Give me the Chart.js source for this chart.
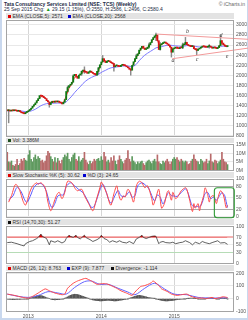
<!DOCTYPE html>
<html>
<head>
<meta charset="utf-8">
<title>TCS weekly</title>
<script src="https://cdn.jsdelivr.net/npm/chart.js@4.4.1/dist/chart.umd.min.js"></script>
<style>
  body { margin: 0; width: 248px; height: 320px; background: #c9d8ee; position: relative; overflow: hidden;
         font-family: "Liberation Sans", Arial, sans-serif; }
  #sheet { position: absolute; left: 2px; top: 0; width: 245px; height: 318px; background: #fff; }
  .hdr { position: absolute; left: 4px; font-size: 5px; line-height: 6px; color: #1d2b45; white-space: nowrap; }
  .strip { position: absolute; left: 6px; width: 228px; height: 6px; background: #e3e3e3; }
  .lg { position: absolute; top: 0; font-size: 5px; line-height: 6px; color: #333; white-space: nowrap; }
  .sq { display: inline-block; width: 3px; height: 3px; margin-right: 1.5px; }
  canvas { position: absolute; left: 6px; }
</style>
</head>
<body>
<div id="sheet"></div>
<div class="hdr" style="top:0.5px;font-weight:bold">Tata Consultancy Services Limited (NSE: TCS) (Weekly)</div>
<div class="hdr" style="top:6px">25 Sep 2015 Chg: <span style="color:#1a9a1a">&#9650;</span> 29.15 (1.15%), O:2550, H:2586, L:2496, C:2580.4</div>
<div class="hdr" style="top:0.5px;left:auto;right:3px;color:#666">&copy; iCharts.in</div>

<div class="strip" style="top:13px">
  <span class="lg" style="left:2px"><i class="sq" style="background:#e00000"></i>EMA (CLOSE,5): 2571</span>
  <span class="lg" style="left:62px"><i class="sq" style="background:#0000d0"></i>EMA (CLOSE,20): 2568</span>
</div>
<div class="strip" style="top:138px;height:5px">
  <span class="lg" style="left:2px;line-height:5px"><i class="sq" style="background:#1f4f1f"></i>Vol: 3.386M</span>
</div>
<div class="strip" style="top:172px">
  <span class="lg" style="left:2px"><i class="sq" style="background:#e00000"></i>Slow Stochastic %K (5): 30.62</span>
  <span class="lg" style="left:77px"><i class="sq" style="background:#0000d0"></i>%D (3): 24.65</span>
</div>
<div class="strip" style="top:219px">
  <span class="lg" style="left:2px"><i class="sq" style="background:#111"></i>RSI (14,70,30): 51.27</span>
</div>
<div class="strip" style="top:265px">
  <span class="lg" style="left:2px"><i class="sq" style="background:#e00000"></i>MACD (26, 12): 8.763</span>
  <span class="lg" style="left:61px"><i class="sq" style="background:#0000d0"></i>EXP (9): 7.877</span>
  <span class="lg" style="left:105px"><i class="sq" style="background:#111"></i>Divergence: -1.114</span>
</div>

<canvas id="cPrice" width="242" height="127" style="top:15px"></canvas>
<canvas id="cVol" width="242" height="37" style="top:139px"></canvas>
<canvas id="cStoch" width="242" height="49" style="top:174px"></canvas>
<canvas id="cRsi" width="242" height="48" style="top:221px"></canvas>
<canvas id="cMacd" width="242" height="53" style="top:267px"></canvas>

<script>
// weeks are counted from 21 Sep 2012 (week 0) to 25 Sep 2015 (week 157)
const yearWeeks = [15, 67, 119];
const yearLabels = ['2013', '2014', '2015'];

const firstOpen = 1310;
const closes = [
  1300, 1310, 1295, 1305, 1300, 1315, 1300, 1290, 1305, 1280,
  1260, 1250, 1240, 1265, 1280, 1300, 1325, 1350, 1390, 1420,
  1455, 1500, 1540, 1600, 1590, 1585, 1560, 1540, 1500, 1475,
  1422, 1460, 1488, 1470, 1480, 1475, 1490, 1470, 1455, 1436,
  1470, 1520, 1681, 1760, 1800, 1825, 1864, 1990, 2020, 1980,
  1942, 2006, 2030, 2080, 2103, 2070, 2060, 2040, 2070, 2084,
  2060, 2040, 2020, 2006, 2080, 2148, 2210, 2266, 2331, 2290,
  2253, 2279, 2290, 2270, 2250, 2234, 2170, 2190, 2200, 2180,
  2175, 2200, 2214, 2200, 2190, 2170, 2150, 2120, 2103, 2200,
  2270, 2331, 2390, 2428, 2500, 2540, 2578, 2540, 2512, 2530,
  2560, 2605, 2650, 2707, 2750, 2784, 2800, 2687, 2512, 2605,
  2630, 2645, 2656, 2640, 2620, 2590, 2558, 2460, 2527, 2540,
  2558, 2540, 2530, 2550, 2545, 2605, 2620, 2656, 2610, 2590,
  2578, 2570, 2580, 2527, 2510, 2493, 2520, 2538, 2560, 2578,
  2570, 2560, 2558, 2575, 2580, 2560, 2538, 2560, 2545, 2530,
  2550, 2590, 2687, 2640, 2605, 2580, 2570, 2580.4
];
// [week, low, high] for the wicks that stand out
const wicks = [
  [1, 1060, 1320], [30, 1370, 1440], [43, 1660, 1790], [47, 1900, 2010], [53, 2000, 2090],
  [55, 2040, 2170], [65, 2020, 2160], [68, 2290, 2395], [76, 2084, 2240], [88, 2006, 2130],
  [92, 2330, 2420], [101, 2540, 2640], [106, 2690, 2840], [109, 2500, 2650], [117, 2362, 2560],
  [125, 2530, 2640], [127, 2600, 2753], [135, 2410, 2530], [144, 2540, 2610], [152, 2630, 2800]
];
// EMA values every second week, last one at week 157
const ema5 = [
  1302, 1300, 1303, 1305, 1298, 1275, 1252, 1270, 1310, 1370,
  1435, 1515, 1580, 1575, 1525, 1465, 1470, 1478, 1480, 1460,
  1460, 1590, 1740, 1830, 1960, 1975, 2010, 2070, 2075, 2065,
  2065, 2035, 2040, 2160, 2280, 2280, 2280, 2255, 2205, 2195,
  2185, 2205, 2195, 2160, 2120, 2230, 2350, 2460, 2550, 2535,
  2550, 2625, 2720, 2775, 2620, 2610, 2645, 2630, 2575, 2515,
  2545, 2540, 2555, 2610, 2625, 2590, 2580, 2530, 2515, 2550,
  2570, 2562, 2575, 2555, 2550, 2548, 2620, 2625, 2580, 2571
];
const ema20 = [
  1300, 1301, 1302, 1303, 1302, 1296, 1286, 1282, 1288, 1305,
  1330, 1365, 1400, 1425, 1440, 1445, 1448, 1450, 1452, 1452,
  1450, 1475, 1530, 1590, 1660, 1720, 1775, 1840, 1890, 1930,
  1960, 1985, 2005, 2040, 2075, 2100, 2130, 2150, 2160, 2168,
  2174, 2185, 2188, 2185, 2175, 2180, 2220, 2290, 2350, 2400,
  2440, 2475, 2510, 2545, 2560, 2570, 2585, 2598, 2600, 2590,
  2585, 2580, 2575, 2580, 2590, 2590, 2588, 2575, 2565, 2562,
  2563, 2563, 2565, 2562, 2558, 2555, 2575, 2580, 2570, 2568
];
const upperTrendWeeks = [106.6, 171.6];
const upperTrendPrices = [2818, 2715];
const lowerTrendWeeks = [117.6, 171.6];
const lowerTrendPrices = [2330, 2540];
const waveNames = ['a', 'b', 'c', 'd', 'e'];
const waveWeeks = [118.2, 128.4, 135.2, 152.4, 156.6];
const wavePrices = [2304, 2862, 2308, 2784, 2376];
const priceTicks = [800, 1000, 1200, 1400, 1600, 1800, 2000, 2200, 2400, 2600, 2800, 3000];

// volume in millions
const volumes = [
  10.5, 5.0, 4.5, 5.5, 3.0, 2.5, 3.5, 6.5, 3.0, 4.0,
  6.5, 5.5, 7.0, 6.0, 5.5, 9.0, 11.5, 6.5, 5.0, 7.5,
  9.0, 6.5, 8.0, 7.0, 5.5, 6.0, 4.5, 5.5, 8.5, 11.0,
  10.0, 8.0, 6.5, 5.0, 7.5, 4.5, 7.0, 5.5, 4.0, 6.0,
  7.5, 9.0, 8.0, 10.0, 6.5, 5.0, 7.5, 9.0, 10.0, 6.5,
  5.5, 8.0, 5.0, 6.0, 7.0, 10.5, 6.0, 4.5, 3.5, 5.5,
  4.0, 5.0, 6.5, 5.5, 6.5, 7.0, 5.5, 8.0, 6.0, 10.5,
  8.0, 5.0, 6.0, 4.5, 7.5, 5.5, 8.5, 5.5, 3.5, 6.0,
  8.5, 6.5, 5.0, 4.0, 6.0, 7.0, 11.5, 6.5, 5.0, 8.0,
  5.5, 4.5, 3.5, 5.0, 4.0, 5.0, 5.5, 4.0, 3.0, 4.5,
  5.5, 6.0, 5.0, 4.0, 5.5, 6.5, 5.0, 9.0, 5.0, 4.0,
  3.5, 5.5, 4.5, 5.5, 6.5, 5.0, 3.5, 5.0, 6.5, 7.5,
  6.5, 7.5, 6.0, 5.0, 6.5, 5.5, 4.5, 5.5, 5.0, 3.5,
  4.0, 5.5, 6.5, 9.0, 6.5, 5.5, 5.0, 3.5, 6.5, 5.5,
  4.5, 5.0, 6.5, 4.0, 5.5, 9.5, 5.0, 4.5, 6.0, 5.5,
  4.0, 5.0, 6.0, 10.5, 6.5, 5.0, 4.5, 3.386
];
const volTicks = [0, 5, 10, 15];

const stochKWeeks = [
  1, 3, 6, 9, 11, 13, 16, 18, 21, 22, 24, 27, 29, 31, 33, 35, 37, 39, 41, 43,
  46, 48, 50, 53, 55, 58, 61, 63, 66, 67, 68, 71, 73, 74, 76, 78, 79, 81, 83, 84,
  86, 88, 90, 92, 94, 96, 98, 100, 103, 104, 106, 108, 110, 112, 114, 115, 117, 118, 120, 122,
  124, 127, 128, 130, 132, 133, 134, 136, 137, 138, 140, 141, 143, 144, 145, 147, 149, 150, 152, 154,
  155, 156, 157
];
const stochK = [
  39, 56, 86, 69, 44, 31, 65, 81, 90, 86, 90, 77, 39, 16, 35, 56, 65, 48, 65, 94,
  90, 77, 69, 73, 56, 35, 16, 39, 77, 92, 86, 61, 35, 31, 61, 82, 65, 44, 56, 52,
  73, 61, 39, 82, 94, 90, 77, 82, 48, 31, 52, 73, 23, 35, 65, 69, 44, 65, 48, 56,
  69, 77, 73, 44, 14, 35, 23, 35, 16, 31, 56, 77, 56, 39, 52, 56, 35, 48, 69, 58,
  42, 24, 30.62
];
const stochDWeeks = [
  1, 4, 7, 10, 12, 14, 17, 19, 22, 25, 28, 30, 32, 34, 36, 38, 40, 42, 45, 48,
  51, 54, 57, 60, 62, 65, 68, 70, 72, 74, 77, 79, 81, 84, 87, 89, 91, 93, 96, 99,
  101, 103, 105, 107, 109, 111, 113, 115, 117, 119, 121, 124, 127, 129, 131, 133, 135, 137, 139, 141,
  143, 145, 147, 149, 151, 153, 155, 156, 157
];
const stochD = [
  45, 55, 78, 66, 48, 38, 60, 78, 88, 86, 66, 38, 24, 36, 55, 58, 58, 80, 90, 82,
  72, 64, 45, 25, 28, 60, 86, 72, 48, 36, 58, 70, 56, 54, 66, 52, 56, 82, 90, 82,
  74, 56, 42, 58, 52, 34, 50, 64, 56, 55, 54, 64, 74, 62, 36, 26, 28, 26, 38, 62,
  64, 48, 52, 44, 54, 64, 56, 40, 24.65
];
const stochTicks = [0, 20, 50, 80, 100];
const focusWeeks = [147.6, 161.8];
const focusLevels = [77, -2.5];

const rsiWeeks = [
  0, 3, 5, 7, 10, 12, 13, 16, 18, 21, 22, 24, 25, 28, 30, 31, 34, 36, 39, 41,
  42, 44, 45, 47, 49, 50, 52, 55, 56, 59, 61, 64, 66, 67, 69, 71, 73, 75, 78, 80,
  82, 85, 87, 90, 92, 94, 96, 97, 99, 101, 103, 105, 106, 108, 109, 111, 113, 116, 118, 120,
  123, 125, 127, 130, 132, 134, 137, 139, 141, 144, 146, 150, 152, 155, 157
];
const rsiVals = [
  56, 57, 55, 53, 49, 47, 53, 59, 61, 67, 70, 79, 73, 67, 50, 61, 57, 61, 55, 59,
  67, 76, 73, 70, 76, 70, 66, 76, 70, 64, 59, 64, 69, 76, 67, 64, 57, 61, 57, 61,
  57, 55, 59, 53, 66, 70, 76, 70, 67, 70, 73, 74, 73, 53, 57, 59, 56, 55, 57, 53,
  56, 57, 61, 56, 50, 57, 53, 59, 56, 53, 56, 61, 55, 56, 51.27
];
const rsiTicks = [0, 30, 50, 70, 100];

const macdWeeks = [
  0, 5, 11, 15, 18, 22, 27, 30, 34, 39, 41, 43, 47, 50, 54, 56, 60, 64, 67, 71,
  74, 78, 81, 85, 89, 91, 95, 98, 102, 104, 108, 110, 114, 117, 121, 124, 128, 131, 135, 139,
  142, 146, 148, 152, 154, 157
];
const macdVals = [
  36, 26, 10, 5, 18, 44, 77, 62, 44, 31, 36, 82, 121, 139, 155, 160, 139, 113, 118, 116,
  103, 82, 62, 44, 26, 52, 95, 103, 121, 139, 103, 77, 57, 36, 26, 31, 36, 18, 5, 5,
  0, 10, 0, 10, 15, 8.763
];
const signalWeeks = [0, 8, 15, 22, 29, 36, 42, 48, 55, 60, 66, 72, 79, 86, 91, 98, 105, 112, 119, 128, 136, 146, 157];
const signalVals = [36, 18, 10, 25, 55, 45, 36, 88, 134, 139, 113, 113, 82, 52, 31, 82, 121, 77, 36, 31, 10, 5, 7.877];
const divergence = [
  -4, -5, -6, -6, -7, -7, -6, -6, -5, -5,
  -4, -4, -3, -3, -2, -1, 2,
  6, 10, 14, 18, 22, 25, 26, 25, 22,
  18, 13, 8, 4, 0,
  -4, -7, -8, -9, -8, -8, -7, -5, -3, -1, 2,
  8, 14, 20, 26, 30, 33, 35, 35, 33, 30, 26,
  22, 18, 14, 10, 6, 2,
  -3, -6, -9, -12, -14, -15, -16, -17, -18, -17, -16, -15, -14, -13, -14, -15, -16, -17, -18, -17, -15, -13, -12, -10, -8, -6, -4,
  -1, 3, 7, 11, 15, 19, 22, 25, 26, 25, 23, 20, 17, 14, 11,
  9, 7, 5, 3, 1, -2,
  -5, -8, -11, -14, -16, -17, -18, -18, -17, -16, -15, -14, -12, -10, -8, -6, -5, -4, -3,
  -2, -1, 0, 1, 2, 3, 3, 2, 1, 0, -2, -3, -4, -3, -2, -1, 1, 2, 3, 3, 2, 1, 0, -1, -2, -1, 1, 2, 2, 1, 0, -1.114
];
const macdTicks = [-100, 0, 100, 200];

const xMin = -0.9, xMax = 161.6;

Chart.defaults.font.family = '"Liberation Sans", Arial, sans-serif';
Chart.defaults.font.size = 5;
Chart.defaults.color = '#555';

function isUp(i) {
  return closes[i] >= (i ? closes[i - 1] : firstOpen);
}
function pairs(weeks, vals) {
  return vals.map((v, k) => ({ x: weeks[k], y: v }));
}
function everySecondWeek(vals) {
  return vals.map((v, k) => ({ x: k < vals.length - 1 ? k * 2 : closes.length - 1, y: v }));
}

const frameBox = {
  id: 'frameBox',
  afterDraw(chart) {
    const a = chart.chartArea, g = chart.ctx;
    g.save();
    g.strokeStyle = '#a4a4a4';
    g.lineWidth = 1;
    g.strokeRect(a.left + 0.5, a.top + 0.5, a.right - a.left - 1, a.bottom - a.top - 1);
    g.restore();
  }
};

const waveText = {
  id: 'waveText',
  afterDatasetsDraw(chart) {
    const g = chart.ctx, xs = chart.scales.x, ys = chart.scales.y;
    g.save();
    g.font = 'italic 6px "Liberation Serif", serif';
    g.fillStyle = '#444';
    g.textAlign = 'center';
    g.textBaseline = 'middle';
    waveNames.forEach((t, k) => {
      g.fillText(t, xs.getPixelForValue(waveWeeks[k]), ys.getPixelForValue(wavePrices[k]));
    });
    g.restore();
  }
};

const focusBox = {
  id: 'focusBox',
  afterDraw(chart) {
    const g = chart.ctx, xs = chart.scales.x, ys = chart.scales.y;
    const x0 = xs.getPixelForValue(focusWeeks[0]), x1 = xs.getPixelForValue(focusWeeks[1]);
    const y0 = ys.getPixelForValue(focusLevels[0]), y1 = ys.getPixelForValue(focusLevels[1]);
    g.save();
    g.strokeStyle = '#2f9a35';
    g.lineWidth = 1.1;
    g.beginPath();
    g.roundRect(x0, y0, x1 - x0, y1 - y0, 3);
    g.stroke();
    g.restore();
  }
};

function xScale(showLabels) {
  return {
    type: 'linear', min: xMin, max: xMax, offset: false,
    afterBuildTicks: s => { s.ticks = yearWeeks.map(v => ({ value: v })); },
    afterFit: s => { s.height = showLabels ? 8 : 0; },
    grid: { color: '#d6d6d6', drawTicks: false, offset: false },
    border: { display: false },
    ticks: { display: showLabels, autoSkip: false, maxRotation: 0, padding: 2, color: '#555',
             callback: (v, i) => yearLabels[i] }
  };
}

function yScale(min, max, ticks, fmt, gridColor, gridWidth) {
  return {
    position: 'right', min: min, max: max,
    afterBuildTicks: s => { s.ticks = ticks.map(v => ({ value: v })); },
    afterFit: s => { s.width = 14; },
    grid: { drawTicks: false, color: gridColor, lineWidth: gridWidth || 1 },
    border: { display: false },
    ticks: { padding: 2, color: '#555', callback: fmt }
  };
}

function options(x, y, padBottom) {
  return {
    responsive: false, animation: false, events: [],
    layout: { padding: { top: 4, bottom: padBottom, left: 0, right: 0 } },
    plugins: { legend: { display: false }, tooltip: { enabled: false } },
    scales: { x: x, y: y }
  };
}

// price panel
new Chart(document.getElementById('cPrice'), {
  type: 'bar',
  data: {
    datasets: [
      { type: 'line', data: pairs(upperTrendWeeks, upperTrendPrices), borderColor: '#f29a9a', borderWidth: 1,
        pointRadius: 0, clip: false, order: 0 },
      { type: 'line', data: pairs(lowerTrendWeeks, lowerTrendPrices), borderColor: '#f29a9a', borderWidth: 1,
        pointRadius: 0, clip: false, order: 0 },
      { data: closes.map((c, i) => ({ x: i, y: [i ? closes[i - 1] : firstOpen, c] })),
        backgroundColor: closes.map((c, i) => isUp(i) ? '#0d7a12' : '#d41515'),
        barThickness: 1.2, minBarLength: 1, grouped: false, order: 1 },
      { type: 'line', data: everySecondWeek(ema5), borderColor: '#ff2a2a', borderWidth: 0.9,
        pointRadius: 0, order: 3 },
      { type: 'line', data: everySecondWeek(ema20), borderColor: '#6f6cff', borderWidth: 0.9,
        pointRadius: 0, order: 3 },
      { data: wicks.map(w => ({ x: w[0], y: [w[1], w[2]] })), backgroundColor: '#8a8a8a',
        barThickness: 0.8, grouped: false, order: 4 }
    ]
  },
  options: options(xScale(false), yScale(780, 3097, priceTicks, v => v, '#e8e8e8'), 4),
  plugins: [frameBox, waveText]
});

// volume panel
new Chart(document.getElementById('cVol'), {
  type: 'bar',
  data: {
    datasets: [
      { data: volumes.map((v, i) => ({ x: i, y: v })),
        backgroundColor: volumes.map((v, i) => isUp(i) ? '#5f9a5f' : '#b86a6a'),
        barThickness: 1, grouped: false }
    ]
  },
  options: options(xScale(false), yScale(-0.3, 15.3, volTicks, v => v + 'M', '#e8e8e8'), 4),
  plugins: [frameBox]
});

// slow stochastic panel
new Chart(document.getElementById('cStoch'), {
  type: 'line',
  data: {
    datasets: [
      { data: pairs(stochKWeeks, stochK), borderColor: '#ff4a4a', borderWidth: 1, pointRadius: 0, tension: 0.3 },
      { data: pairs(stochDWeeks, stochD), borderColor: '#5a5aff', borderWidth: 1, pointRadius: 0, tension: 0.3 }
    ]
  },
  options: options(xScale(false), yScale(-3, 100, stochTicks, v => v,
    c => (c.tick.value === 20 || c.tick.value === 80) ? '#a8a8a8' : '#ececec'), 4),
  plugins: [frameBox, focusBox]
});

// RSI panel
new Chart(document.getElementById('cRsi'), {
  type: 'line',
  data: {
    datasets: [
      { data: pairs(rsiWeeks, rsiVals), borderColor: '#3a3a3a', borderWidth: 0.8, pointRadius: 0,
        fill: { target: { value: 70 }, above: '#e00000', below: 'rgba(0,0,0,0)' } }
    ]
  },
  options: options(xScale(false), yScale(-2, 101, rsiTicks, v => v,
    c => c.tick.value === 70 ? '#f4b2b2' : c.tick.value === 30 ? '#b6dcb6' : '#ececec',
    c => c.tick.value === 70 ? 2 : 1), 4),
  plugins: [frameBox]
});

// MACD panel
new Chart(document.getElementById('cMacd'), {
  type: 'bar',
  data: {
    datasets: [
      { type: 'line', data: pairs(macdWeeks, macdVals), borderColor: '#ff4a4a', borderWidth: 1,
        pointRadius: 0, tension: 0.2, order: 0 },
      { type: 'line', data: pairs(signalWeeks, signalVals), borderColor: '#6464ff', borderWidth: 1,
        pointRadius: 0, tension: 0.3, order: 0 },
      { data: divergence.map((v, i) => ({ x: i, y: v })), backgroundColor: '#555',
        barThickness: 1, grouped: false, order: 1 }
    ]
  },
  options: options(xScale(true), yScale(-105, 210, macdTicks, v => v, '#e8e8e8'), 0),
  plugins: [frameBox]
});
console.log('weeks', closes.length, volumes.length, divergence.length);
</script>
</body>
</html>
